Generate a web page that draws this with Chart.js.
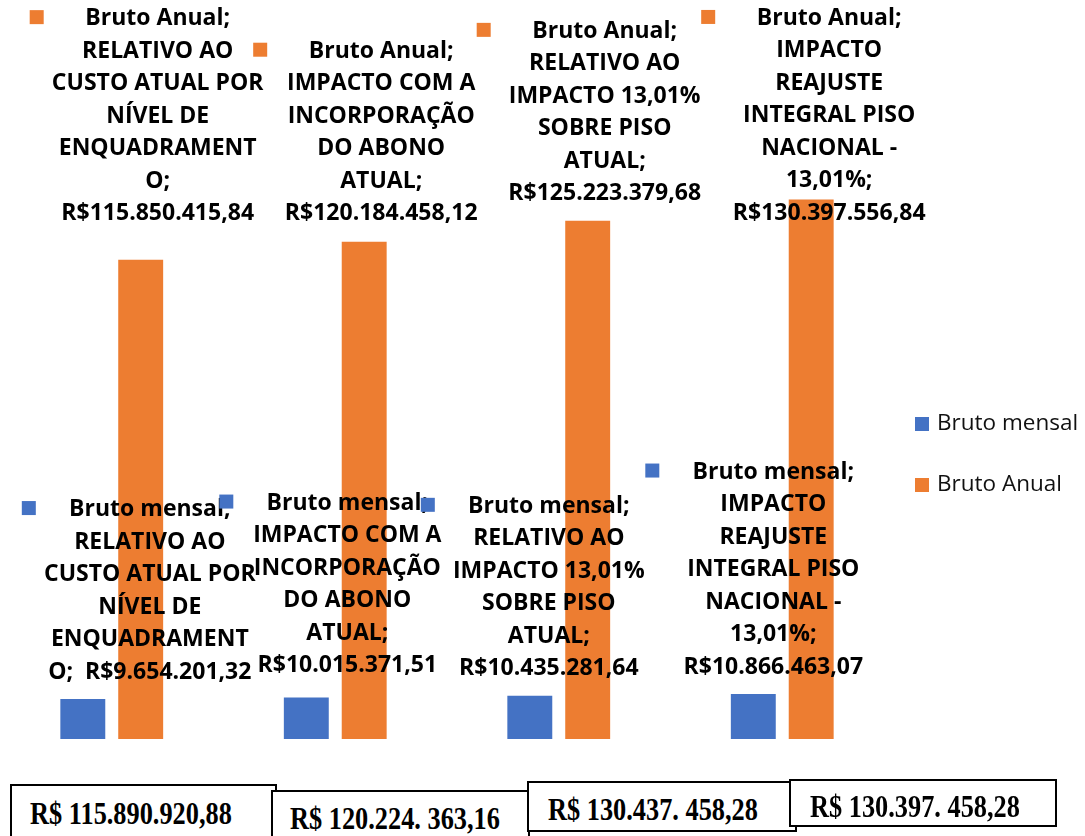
<!DOCTYPE html>
<html>
<head>
<meta charset="utf-8">
<script src="https://cdn.jsdelivr.net/npm/chart.js@4.4.1/dist/chart.umd.min.js"></script>
<style>
  html, body { margin: 0; padding: 0; background: #fff; }
  #wrap { position: relative; width: 1085px; height: 836px; overflow: hidden; }
  #chart { position: absolute; left: 0; top: 0; }
  .box {
    position: absolute; box-sizing: border-box; background: #fff;
    border: 2px solid #000;
    font-family: "Liberation Serif", "Times New Roman", serif;
    font-weight: bold; font-size: 27px; color: #000; white-space: nowrap;
  }
  .box span { position: absolute; transform-origin: 0 50%; transform: translateY(-50%) scale(0.975, 1.16); }
</style>
</head>
<body>
<div id="wrap">
  <canvas id="chart" width="1085" height="836"></canvas>
</div>
<script>
// --- Data ---
const seriesNames = ['Bruto mensal', 'Bruto Anual'];
const seriesColors = ['#4472C4', '#ED7D31'];

const brutoMensal = [9654201.32, 10015371.51, 10435281.64, 10866463.07];
const brutoAnual = [115850415.84, 120184458.12, 125223379.68, 130397556.84];

const categories = [
    'RELATIVO AO CUSTO ATUAL POR NÍVEL DE ENQUADRAMENTO',
    'IMPACTO COM A INCORPORAÇÃO DO ABONO ATUAL',
    'RELATIVO AO IMPACTO 13,01% SOBRE PISO ATUAL',
    'IMPACTO REAJUSTE INTEGRAL PISO NACIONAL - 13,01%'
];

// how each category name wraps inside the data label boxes
const anualWrap = [
    ['RELATIVO AO', 'CUSTO ATUAL POR', 'NÍVEL DE', 'ENQUADRAMENT', 'O;'],
    ['IMPACTO COM A', 'INCORPORAÇÃO', 'DO ABONO', 'ATUAL;'],
    ['RELATIVO AO', 'IMPACTO 13,01%', 'SOBRE PISO', 'ATUAL;'],
    ['IMPACTO', 'REAJUSTE', 'INTEGRAL PISO', 'NACIONAL -', '13,01%;']
];
const mensalWrap = [
    ['RELATIVO AO', 'CUSTO ATUAL POR', 'NÍVEL DE', 'ENQUADRAMENT', 'O; '],
    ['IMPACTO COM A', 'INCORPORAÇÃO', 'DO ABONO', 'ATUAL;'],
    ['RELATIVO AO', 'IMPACTO 13,01%', 'SOBRE PISO', 'ATUAL;'],
    ['IMPACTO', 'REAJUSTE', 'INTEGRAL PISO', 'NACIONAL -', '13,01%;']
];
// value shares the last wrapped line (only the first monthly label)
const mensalValueInline = [true, false, false, false];

// totals written in the boxes under the chart
const boxTotals = ['R$ 115.890.920,88', 'R$ 120.224. 363,16', 'R$ 130.437. 458,28', 'R$ 130.397. 458,28'];

// --- Label placement (offset of the last line from the bar top) ---
const labelDx = [[67, 41, 19, 20], [17, 17, 17, 18]];
const labelDy = [[-27, -32, -27, -27], [-46, -28, -27, 14]];
const LINE_H = 32.5;
const LABEL_FONT = 'bold 23px "Open Sans"';

function formatBRL(v) {
    const parts = v.toFixed(2).split('.');
    const intPart = parts[0].replace(/\B(?=(\d{3})+(?!\d))/g, '.');
    return 'R$' + intPart + ',' + parts[1];
}

function labelLines(di, i) {
    const value = formatBRL(di === 0 ? brutoMensal[i] : brutoAnual[i]);
    const wrap = (di === 0 ? mensalWrap : anualWrap)[i].slice();
    const lines = [seriesNames[di] + ';'];
    if (di === 0 && mensalValueInline[i]) {
        const last = wrap.pop();
        lines.push(...wrap, last + ' ' + value);
    } else {
        lines.push(...wrap, value);
    }
    return lines;
}

const barLabels = {
    id: 'barLabels',
    afterDatasetsDraw(chart) {
        const ctx = chart.ctx;
        ctx.save();
        ctx.font = LABEL_FONT;
        ctx.textAlign = 'center';
        ctx.textBaseline = 'middle';
        chart.data.datasets.forEach((ds, di) => {
            chart.getDatasetMeta(di).data.forEach((bar, i) => {
                const lines = labelLines(di, i);
                const cx = bar.x + labelDx[di][i];
                const lastY = bar.y + labelDy[di][i];
                const firstY = lastY - (lines.length - 1) * LINE_H;
                ctx.fillStyle = ds.backgroundColor;
                ctx.fillRect(cx - 128, firstY - 8.5, 14, 14);
                ctx.fillStyle = '#000';
                lines.forEach((l, k) => ctx.fillText(l, cx, firstY + k * LINE_H));
            });
        });
        ctx.restore();
    }
};

const sideLegend = {
    id: 'sideLegend',
    afterDraw(chart) {
        const ctx = chart.ctx;
        const x = chart.chartArea.right + 21;
        ctx.save();
        ctx.font = '22.5px "Open Sans"';
        ctx.textBaseline = 'middle';
        chart.data.datasets.forEach((ds, di) => {
            const y = 424 + di * 61;
            ctx.fillStyle = ds.backgroundColor;
            ctx.fillRect(x, y - 7, 14, 14);
            ctx.fillStyle = '#111';
            ctx.fillText(ds.label, x + 22, y);
        });
        ctx.restore();
    }
};

new Chart(document.getElementById('chart'), {
    type: 'bar',
    data: {
        labels: categories,
        datasets: [
            { label: seriesNames[0], data: brutoMensal, backgroundColor: seriesColors[0] },
            { label: seriesNames[1], data: brutoAnual, backgroundColor: seriesColors[1] }
        ]
    },
    options: {
        responsive: false,
        animation: false,
        devicePixelRatio: 1,
        categoryPercentage: 0.518,
        barPercentage: 0.776,
        layout: { padding: { left: 0, right: 191, top: 0, bottom: 97 } },
        plugins: { legend: { display: false }, tooltip: { enabled: false } },
        scales: {
            x: { display: false },
            y: { display: false, min: 0, max: 178.6e6 }
        }
    },
    plugins: [barLabels, sideLegend]
});

// boxes with the totals
const boxGeom = [
    { l: 10, t: 784, w: 267, h: 60, tx: 18, ty: 28 },
    { l: 271, t: 790, w: 259, h: 60, tx: 17, ty: 27 },
    { l: 527, t: 781, w: 270, h: 51, tx: 19, ty: 27 },
    { l: 789, t: 779, w: 268, h: 48, tx: 19, ty: 26 }
];
const wrap = document.getElementById('wrap');
boxTotals.forEach((txt, i) => {
    const g = boxGeom[i];
    const d = document.createElement('div');
    d.className = 'box';
    d.style.left = g.l + 'px';
    d.style.top = g.t + 'px';
    d.style.width = g.w + 'px';
    d.style.height = g.h + 'px';
    d.style.zIndex = i + 1;
    const s = document.createElement('span');
    s.textContent = txt;
    s.style.left = g.tx + 'px';
    s.style.top = g.ty + 'px';
    d.appendChild(s);
    wrap.appendChild(d);
});
</script>
</body>
</html>
